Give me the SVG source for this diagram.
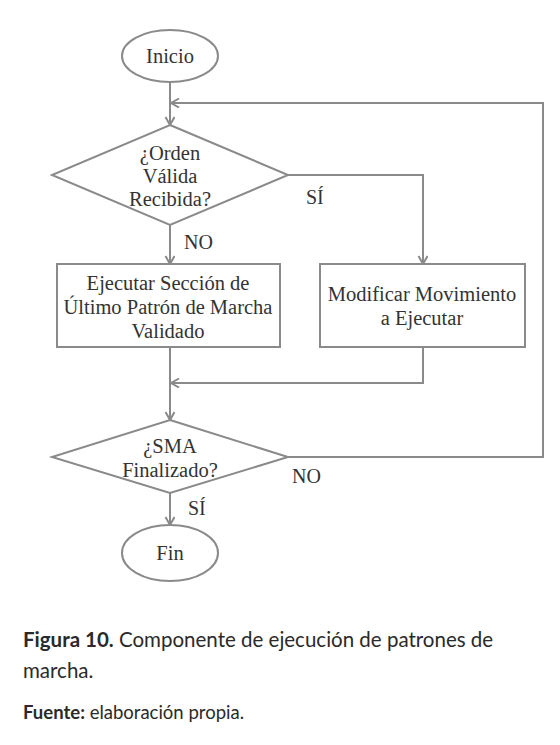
<svg xmlns="http://www.w3.org/2000/svg" width="560" height="745" viewBox="0 0 560 745">
<defs>
<style>
.shape{fill:#fff;stroke:#8a8a8a;stroke-width:2}
.conn{fill:none;stroke:#8a8a8a;stroke-width:2}
.t{font-family:"Liberation Serif","Times New Roman",serif;font-size:20.5px;fill:#333;text-anchor:middle}
.lbl{font-family:"Liberation Serif","Times New Roman",serif;font-size:20px;fill:#333}
.cap{font-family:Lato,"Open Sans",sans-serif;font-size:20.5px;fill:#2a2a2a}
.capb{font-weight:bold}
</style>
<marker id="arr" markerWidth="12" markerHeight="12" refX="9" refY="5" orient="auto" markerUnits="userSpaceOnUse">
<path d="M1,0.5 L9,5 L1,9.5" fill="none" stroke="#8a8a8a" stroke-width="2"/>
</marker>
</defs>
<rect width="560" height="745" fill="#fff"/>
<g id="connectors">
<path class="conn" d="M170,82 V125" marker-end="url(#arr)"/>
<path class="conn" d="M170,225 V264" marker-end="url(#arr)"/>
<path class="conn" d="M288,175 H423 V264" marker-end="url(#arr)"/>
<path class="conn" d="M170,347 V420" marker-end="url(#arr)"/>
<path class="conn" d="M423,347 V383 H171" marker-end="url(#arr)"/>
<path class="conn" d="M288,457 H543 V103 H171" marker-end="url(#arr)"/>
<path class="conn" d="M170,493 V525" marker-end="url(#arr)"/>
<text class="lbl" x="184" y="249">NO</text>
<text class="lbl" x="306" y="204">SÍ</text>
<text class="lbl" x="292" y="483">NO</text>
<text class="lbl" x="188" y="515">SÍ</text>
</g>
<g id="inicio">
<ellipse class="shape" cx="170" cy="56" rx="48" ry="26"/>
<text class="t" x="170" y="63">Inicio</text>
</g>
<g id="decision1">
<polygon class="shape" points="170,125 288,175 170,225 52,175"/>
<text class="t" x="170" y="160">¿Orden</text>
<text class="t" x="170" y="183">Válida</text>
<text class="t" x="170" y="206">Recibida?</text>
</g>
<g id="ejecutar">
<rect class="shape" x="57" y="264" width="223" height="83"/>
<text class="t" x="168" y="290">Ejecutar Sección de</text>
<text class="t" x="168" y="314">Último Patrón de Marcha</text>
<text class="t" x="168" y="338">Validado</text>
</g>
<g id="modificar">
<rect class="shape" x="320" y="264" width="205" height="83"/>
<text class="t" x="422" y="301">Modificar Movimiento</text>
<text class="t" x="422" y="325">a Ejecutar</text>
</g>
<g id="decision2">
<polygon class="shape" points="170,420 288,457 170,493 52,457"/>
<text class="t" x="170" y="453">¿SMA</text>
<text class="t" x="170" y="477">Finalizado?</text>
</g>
<g id="fin">
<ellipse class="shape" cx="170" cy="553" rx="48" ry="28"/>
<text class="t" x="170" y="560">Fin</text>
</g>
<g id="caption">
<text class="cap" x="23" y="647"><tspan class="capb">Figura 10.</tspan> Componente de ejecución de patrones de</text>
<text class="cap" x="23" y="678">marcha.</text>
<text class="cap" x="23" y="719" style="font-size:18.5px"><tspan class="capb">Fuente:</tspan> elaboración propia.</text>
</g>
</svg>
